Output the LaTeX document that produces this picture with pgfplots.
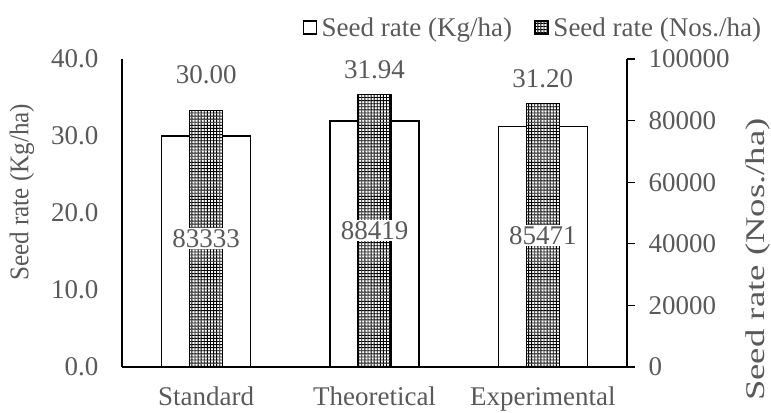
\documentclass[border=0pt]{standalone}
\usepackage{fontspec}
\setmainfont{Liberation Serif}
\usepackage{pgfplots}
\pgfplotsset{compat=1.18}
\usetikzlibrary{patterns}
\definecolor{txt}{RGB}{89,89,89}
\pgfdeclarepatternformonly{xgrid}{\pgfqpoint{-0.1pt}{-0.1pt}}{\pgfqpoint{3.2pt}{3.2pt}}{\pgfqpoint{3.1pt}{3.1pt}}{%
  \pgfpathrectangle{\pgfqpoint{0pt}{0pt}}{\pgfqpoint{3.1pt}{0.9pt}}%
  \pgfpathrectangle{\pgfqpoint{0pt}{0pt}}{\pgfqpoint{0.9pt}{3.1pt}}%
  \pgfusepath{fill}}
\pgfplotsset{
  common/.style={
    width=505bp, height=308bp, scale only axis,
    xmin=-0.5, xmax=2.5,
    font=\fontsize{27bp}{32bp}\selectfont,
    tick label style={text=txt},
    label style={text=txt},
    /pgf/number format/assume math mode=true,
    axis line style={line width=1.3bp},
    clip=false,
  }
}
\begin{document}
\begin{tikzpicture}
\begin{axis}[common, name=L,
  ymin=0, ymax=40,
  axis x line*=bottom, axis y line*=left,
  xtick={0,1,2}, xticklabels={Standard,Theoretical,Experimental},
  ytick={0,10,20,30,40},
  major tick length=0pt,
  y tick label style={/pgf/number format/fixed, /pgf/number format/fixed zerofill, /pgf/number format/precision=1, xshift=-20bp},
  xticklabel style={yshift=-16bp},
  ylabel={Seed rate (Kg/ha)},
  ylabel style={at={(axis description cs:-0.198,0.567)}, anchor=center, xscale=0.93},
]
\addplot[ybar, bar width=89bp, bar shift=0pt, fill=white, draw=black, line width=1.3bp]
  coordinates {(0,30.00) (1,31.94) (2,31.20)};
\end{axis}
\begin{axis}[common, at={(L.south west)}, anchor=south west,
  ymin=0, ymax=100000,
  axis x line=none, axis y line*=right,
  ytick={0,20000,40000,60000,80000,100000},
  tick align=outside, major tick length=8bp,
  tick style={line width=1.3bp, black},
  scaled y ticks=false,
  y tick label style={/pgf/number format/fixed, /pgf/number format/1000 sep={}, xshift=10bp},
  ylabel={Seed rate (Nos./ha)},
  ylabel style={at={(axis description cs:1.259,0.349)}, anchor=center, xscale=1.36},
  legend columns=2,
  legend cell align=left,
  legend style={draw=none, fill=none, at={(1.27,1.102)}, anchor=east,
    text=txt, font=\fontsize{27bp}{32bp}\selectfont, inner sep=0pt,
    /tikz/every even column/.append style={column sep=20bp}},
  legend image code/.code={\draw[#1, line width=1.5bp] (0bp,-6.5bp) rectangle (13bp,6.5bp); \path (16bp,0bp);},
]
\addlegendimage{fill=white, draw=black}
\addlegendentry{Seed rate (Kg/ha)}
\addplot[ybar, bar width=33bp, bar shift=0pt, fill=white, draw=black, line width=1.3bp,
  postaction={pattern=xgrid, pattern color=black}]
  coordinates {(0,83333) (1,88419) (2,85471)};
\addlegendentry{Seed rate (Nos./ha)}
\addplot[forget plot, draw=none, mark=none, nodes near coords, point meta=explicit symbolic,
  nodes near coords style={anchor=center, fill=white, inner sep=1.5bp, text=txt}]
  coordinates {(0,41667)[83333] (1,44210)[88419] (2,42736)[85471]};
\addplot[forget plot, draw=none, mark=none, nodes near coords, point meta=explicit symbolic,
  nodes near coords style={anchor=center, inner sep=0bp, text=txt}]
  coordinates {(0,94968)[30.00] (1,96429)[31.94] (2,93669)[31.20]};
\end{axis}
\pgfresetboundingbox
\path[use as bounding box] ([shift={(-122bp,-46bp)}]L.south west) rectangle ([shift={(649bp,367bp)}]L.south west);
\end{tikzpicture}
\end{document}
